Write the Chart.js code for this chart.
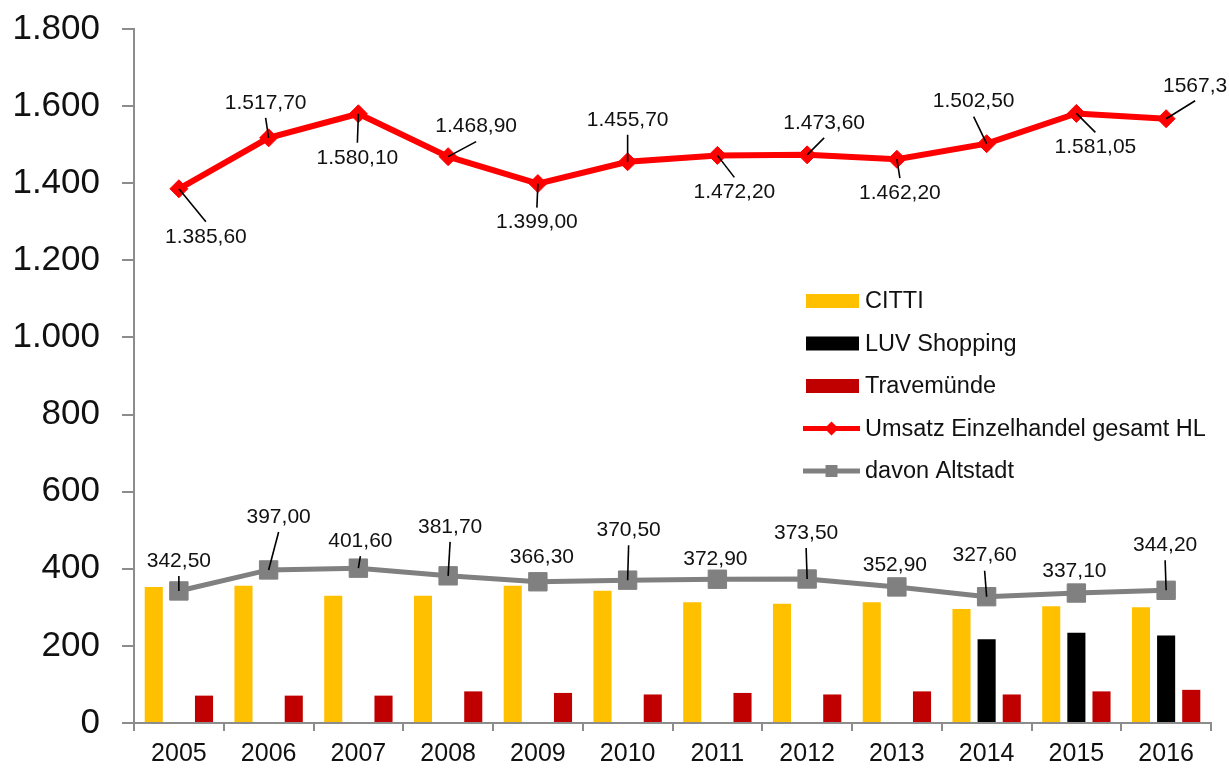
<!DOCTYPE html>
<html lang="de">
<head>
<meta charset="UTF-8">
<title>Umsatz Einzelhandel HL</title>
<script src="https://cdn.jsdelivr.net/npm/chart.js"></script>
<style>
  html, body { margin: 0; padding: 0; background: #fff; }
</style>
</head>
<body>
<canvas id="umsatzChart" width="1229" height="768"></canvas>
<script>
// data (Mio. EUR)
const years = ['2005', '2006', '2007', '2008', '2009', '2010', '2011', '2012', '2013', '2014', '2015', '2016'];
const citti = [353, 356, 330, 330, 356, 343, 313, 309, 313, 296, 303, 300];
const luvShopping = [null, null, null, null, null, null, null, null, null, 217, 234, 227];
const travemuende = [71, 71, 71, 82, 78, 74, 78, 74, 82, 74, 82, 86];
const gesamtHL = [1385.6, 1517.7, 1580.1, 1468.9, 1399.0, 1455.7, 1472.2, 1473.6, 1462.2, 1502.5, 1581.05, 1567.3];
const gesamtLabels = ['1.385,60', '1.517,70', '1.580,10', '1.468,90', '1.399,00', '1.455,70',
                      '1.472,20', '1.473,60', '1.462,20', '1.502,50', '1.581,05', '1567,3'];
const altstadt = [342.5, 397.0, 401.6, 381.7, 366.3, 370.5, 372.9, 373.5, 352.9, 327.6, 337.1, 344.2];
const yMin = 0, yMax = 1800, yStep = 200;

// where the value labels sit relative to their point (px)
const gesamtLabelPos = [[27, 48], [-3, -35], [-1, 44], [28, -30], [-1, 39], [0, -42],
                        [17, 37], [17, -32], [3, 34], [-13, -42], [19, 34], [29, -33]];
const altstadtLabelPos = [[0, -30], [10, -53], [2, -27], [2, -49], [4, -25], [1, -50],
                          [-2, -20], [-1, -46], [-2, -22], [-2, -41], [-2, -22], [-1, -45]];

const FONT = "'Liberation Sans', Arial, sans-serif";
const AXIS_GREY = '#8c8c8c';

function formatDE(v) {
    return String(v).replace(/\B(?=(\d{3})+(?!\d))/g, '.');
}
function formatComma(v) {
    return v.toFixed(2).replace('.', ',');
}

// value labels with leader lines
const valueLabels = {
    id: 'valueLabels',
    afterDatasetsDraw(chart) {
        const ctx = chart.ctx;
        const sets = [
            { index: 3, texts: gesamtLabels, pos: gesamtLabelPos },
            { index: 4, texts: altstadt.map(formatComma), pos: altstadtLabelPos }
        ];
        ctx.save();
        ctx.font = '21px ' + FONT;
        ctx.textAlign = 'center';
        ctx.textBaseline = 'middle';
        sets.forEach(s => {
            const pts = chart.getDatasetMeta(s.index).data;
            pts.forEach((p, i) => {
                const [dx, dy] = s.pos[i];
                const ex = p.x + dx;
                const ey = p.y + dy + (dy < 0 ? 15 : -15);
                if (Math.hypot(ex - p.x, ey - p.y) > 11.5) {
                    ctx.strokeStyle = '#000';
                    ctx.lineWidth = 1.6;
                    ctx.beginPath();
                    ctx.moveTo(p.x, p.y);
                    ctx.lineTo(ex, ey);
                    ctx.stroke();
                }
                ctx.fillStyle = '#111';
                ctx.fillText(s.texts[i], p.x + dx, p.y + dy);
            });
        });
        ctx.restore();
    }
};

// legend inside the plot, right side
const legendBox = { x: 806, y: 301, row: 42.5, swatch: 53 };
const insideLegend = {
    id: 'insideLegend',
    afterDraw(chart) {
        const ctx = chart.ctx;
        ctx.save();
        ctx.font = '23.5px ' + FONT;
        ctx.textBaseline = 'middle';
        ctx.textAlign = 'left';
        chart.data.datasets.forEach((ds, i) => {
            const y = legendBox.y + i * legendBox.row;
            const x = legendBox.x;
            if (ds.type === 'bar') {
                ctx.fillStyle = ds.backgroundColor;
                ctx.fillRect(x, y - 7, legendBox.swatch, 14);
            } else {
                ctx.strokeStyle = ds.borderColor;
                ctx.lineWidth = 5;
                ctx.beginPath();
                ctx.moveTo(x - 3, y);
                ctx.lineTo(x + legendBox.swatch + 1, y);
                ctx.stroke();
                const cx = x + legendBox.swatch / 2 - 1;
                ctx.fillStyle = ds.borderColor;
                ctx.beginPath();
                if (ds.pointStyle === 'rectRot') {
                    ctx.moveTo(cx, y - 7); ctx.lineTo(cx + 7, y);
                    ctx.lineTo(cx, y + 7); ctx.lineTo(cx - 7, y);
                    ctx.closePath();
                } else {
                    ctx.rect(cx - 6, y - 6, 12, 12);
                }
                ctx.fill();
            }
            ctx.fillStyle = '#111';
            ctx.fillText(ds.label, x + legendBox.swatch + 6, y + 1);
        });
        ctx.restore();
    }
};

const ctx = document.getElementById('umsatzChart').getContext('2d');
const chart = new Chart(ctx, {
    data: {
        labels: years,
        datasets: [
            { type: 'bar', label: 'CITTI', data: citti, backgroundColor: '#FFC000', order: 2 },
            { type: 'bar', label: 'LUV Shopping', data: luvShopping, backgroundColor: '#000000', order: 2 },
            { type: 'bar', label: 'Travemünde', data: travemuende, backgroundColor: '#C00000', order: 2 },
            {
                type: 'line', label: 'Umsatz Einzelhandel gesamt HL', data: gesamtHL,
                borderColor: '#FF0000', backgroundColor: '#FF0000', borderWidth: 6,
                pointStyle: 'rectRot', pointRadius: 9, pointBorderWidth: 1, tension: 0, order: 1
            },
            {
                type: 'line', label: 'davon Altstadt', data: altstadt,
                borderColor: '#808080', backgroundColor: '#808080', borderWidth: 5,
                pointStyle: 'rect', pointRadius: 13, pointBorderWidth: 1, tension: 0, order: 1
            }
        ]
    },
    options: {
        responsive: false,
        animation: false,
        devicePixelRatio: 1,
        layout: { padding: { top: 29, right: 18, bottom: 0, left: 0 } },
        datasets: {
            bar: { categoryPercentage: 0.84, barPercentage: 0.72 }
        },
        plugins: {
            legend: { display: false },
            tooltip: { enabled: false }
        },
        scales: {
            x: {
                offset: true,
                grid: { display: true, drawOnChartArea: false, offset: true, tickLength: 8, color: AXIS_GREY, lineWidth: 2 },
                border: { color: AXIS_GREY, width: 2 },
                ticks: { color: '#111', font: { family: FONT, size: 25 }, padding: 8, maxRotation: 0, autoSkip: false },
                afterFit(scale) { scale.height = 45; scale.paddingLeft = 0; scale.paddingRight = 0; }
            },
            y: {
                min: yMin,
                max: yMax,
                grid: { display: true, drawOnChartArea: false, tickLength: 12, color: AXIS_GREY, lineWidth: 2 },
                border: { color: AXIS_GREY, width: 2 },
                ticks: {
                    stepSize: yStep,
                    color: '#111',
                    font: { family: FONT, size: 35 },
                    padding: 22,
                    callback: v => formatDE(v)
                },
                afterFit(scale) { scale.width = 134; scale.paddingTop = 0; scale.paddingBottom = 0; }
            }
        }
    },
    plugins: [valueLabels, insideLegend]
});
</script>
</body>
</html>
